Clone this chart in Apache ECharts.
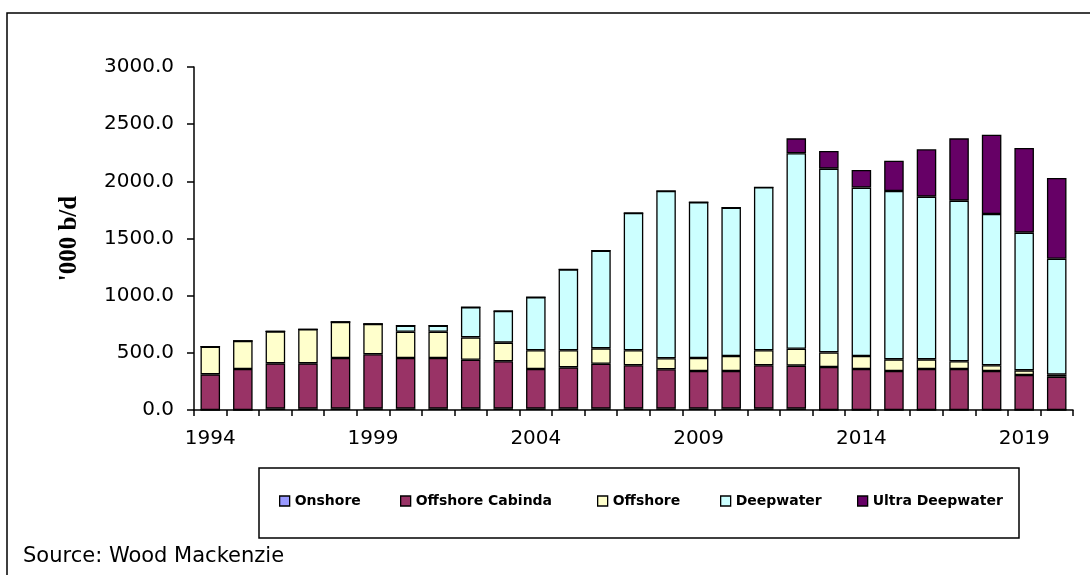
<!DOCTYPE html>
<html>
<head>
<meta charset="utf-8">
<script src="https://cdn.jsdelivr.net/npm/echarts@6/dist/echarts.min.js"></script>
<style>html,body{margin:0;padding:0;background:#fff;}#c{width:1090px;height:575px;}</style>
</head>
<body>
<div id="c"></div>
<script>
var years = ['1994','1995','1996','1997','1998','1999','2000','2001','2002','2003','2004','2005','2006','2007','2008','2009','2010','2011','2012','2013','2014','2015','2016','2017','2018','2019','2020'];
var onshore =        [0,0,12,12,12,12,12,12,12,12,12,12,12,12,12,12,12,12,12,0,0,0,0,0,0,0,0];
var offshoreCabinda = [312,359,396,396,443,475,443,443,428,414,347,361,393,379,344,329,329,379,376,376,359,341,359,359,341,306,291];
var offshore =       [242,245,280,298,315,265,230,230,195,163,163,149,134,131,96,114,131,131,148,128,113,102,84,67,50,41,20];
var deepwater =      [0,0,0,0,0,0,53,53,265,277,464,708,855,1201,1464,1362,1298,1426,1709,1607,1473,1473,1423,1405,1323,1204,1012];
var ultraDeepwater = [0,0,0,0,0,0,0,0,0,0,0,0,0,0,0,0,0,0,131,154,154,265,414,545,694,741,706];
var yTicks = [0,500,1000,1500,2000,2500,3000];

var seriesNames = ['Onshore','Offshore Cabinda','Offshore','Deepwater','Ultra Deepwater'];
var seriesData = [onshore, offshoreCabinda, offshore, deepwater, ultraDeepwater];
var colors = ['#9999FF','#993366','#FFFFCC','#CCFFFF','#660066'];
var legendLeft = [279, 400, 597, 720, 857];

var chart = echarts.init(document.getElementById('c'));
var font = 'DejaVu Sans';
var series = seriesNames.map(function(n, i){
  return {
    name: n, type: 'bar', stack: 'total', data: seriesData[i],
    barWidth: '60%',
    itemStyle: {color: colors[i], borderColor: '#000', borderWidth: 1.3},
    emphasis: {disabled: true}
  };
});
var legends = seriesNames.map(function(n, i){
  return {
    data: [n], left: legendLeft[i], top: 494, orient: 'horizontal',
    icon: 'rect', itemWidth: 10, itemHeight: 10, padding: 0,
    itemStyle: {borderColor: '#000', borderWidth: 1.3},
    textStyle: {fontFamily: font, fontSize: 14, fontWeight: 'bold', color: '#000'},
    selectedMode: false
  };
});
chart.setOption({
  animation: false,
  backgroundColor: '#fff',
  color: colors,
  grid: {left: 194, right: 17, top: 67, bottom: 165, containLabel: false},
  legend: legends,
  xAxis: {
    type: 'category', data: years,
    axisLine: {lineStyle: {color: '#000', width: 1.5}},
    axisTick: {show: true, interval: 0, length: 6, lineStyle: {color: '#000', width: 1.5}},
    axisLabel: {interval: 4, margin: 19, fontFamily: font, fontSize: 20, color: '#000'},
    splitLine: {show: false}
  },
  yAxis: {
    type: 'value', min: yTicks[0], max: yTicks[yTicks.length-1], interval: 500,
    name: "'000 b/d", nameLocation: 'middle', nameGap: 112, nameRotate: 90,
    nameTextStyle: {fontFamily: 'Liberation Serif', fontWeight: 'bold', fontSize: 25, color: '#000'},
    axisLine: {show: true, lineStyle: {color: '#000', width: 1.5}},
    axisTick: {show: true, length: 7, lineStyle: {color: '#000', width: 1.5}},
    axisLabel: {margin: 20, fontFamily: font, fontSize: 20, color: '#000', formatter: function(v){return v.toFixed(1);}},
    splitLine: {show: false}
  },
  graphic: [
    {type: 'rect', shape: {x: 7, y: 13, width: 1200, height: 700}, style: {fill: 'none', stroke: '#000', lineWidth: 1.5}, silent: true, z: -1},
    {type: 'rect', shape: {x: 259, y: 468, width: 760, height: 70}, style: {fill: 'none', stroke: '#000', lineWidth: 1.5}, silent: true},
    {type: 'text', left: 23, top: 546, style: {text: 'Source: Wood Mackenzie', fontFamily: font, fontSize: 21, fill: '#000'}, silent: true}
  ],
  series: series
});
</script>
</body>
</html>
